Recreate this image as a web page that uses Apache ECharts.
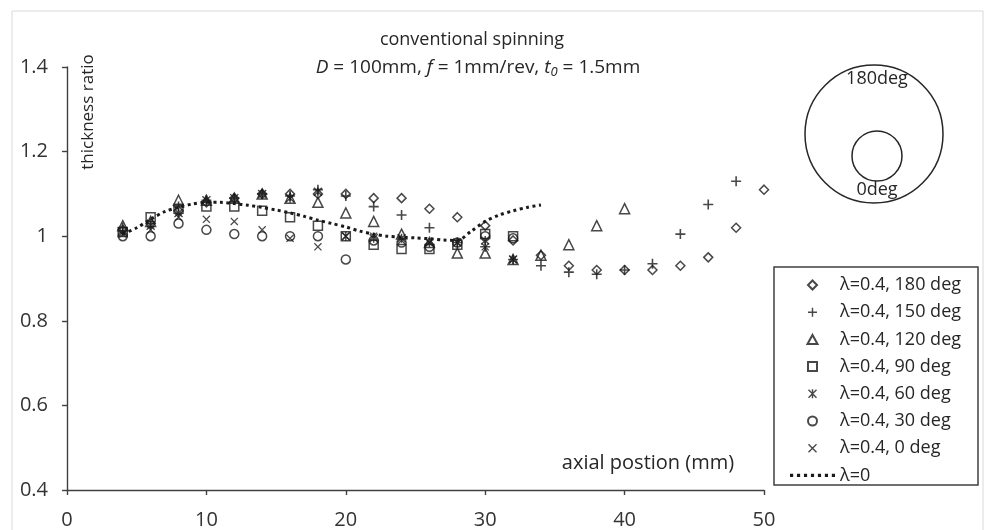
<!DOCTYPE html>
<html>
<head>
<meta charset="utf-8">
<script src="https://cdn.jsdelivr.net/npm/echarts@6/dist/echarts.min.js"></script>
<style>
  html, body { margin: 0; padding: 0; background: #fff; }
  #chart { width: 989px; height: 530px; }
</style>
</head>
<body>
<div id="chart"></div>
<script>
// Axial positions (mm) where the wall thickness was measured
const axialPos = [4, 6, 8, 10, 12, 14, 16, 18, 20, 22, 24, 26, 28, 30, 32, 34, 36, 38, 40, 42, 44, 46, 48, 50];

// Thickness ratio for offset roller (lambda = 0.4) at each circumferential angle
const ratio180 = [1.015, 1.03, 1.06, 1.08, 1.09, 1.10, 1.10, 1.10, 1.10, 1.09, 1.09, 1.065, 1.045, 1.025, 0.99, 0.955, 0.93, 0.92, 0.92, 0.92, 0.93, 0.95, 1.02, 1.11];
const ratio150 = [1.02, 1.03, 1.07, 1.085, 1.09, 1.10, 1.095, 1.11, 1.095, 1.07, 1.05, 1.02, 0.985, 0.975, 0.945, 0.93, 0.915, 0.91, 0.92, 0.935, 1.005, 1.075, 1.13];
const ratio120 = [1.025, 1.035, 1.085, 1.085, 1.09, 1.10, 1.09, 1.08, 1.055, 1.035, 1.005, 0.985, 0.96, 0.96, 0.945, 0.955, 0.98, 1.025, 1.065];
const ratio90  = [1.01, 1.045, 1.065, 1.07, 1.07, 1.06, 1.045, 1.025, 1.0, 0.98, 0.97, 0.97, 0.98, 1.005, 1.0];
const ratio60  = [1.01, 1.025, 1.055, 1.085, 1.09, 1.10, 1.09, 1.105, 1.0, 0.995, 0.995, 0.985, 0.985, 0.99, 0.945];
const ratio30  = [1.0, 1.0, 1.03, 1.015, 1.005, 1.0, 1.0, 1.0, 0.945, 0.99, 0.985, 0.975, 0.985, 1.0, 0.995];
const ratio0   = [1.005, 1.015, 1.045, 1.04, 1.035, 1.015, 0.995, 0.975, 1.0, 1.0, 0.99, 0.985, 0.985, 0.975, 0.945];

// Conventional spinning without offset (lambda = 0)
const lambda0Pos   = [4, 5, 6, 7, 8, 9, 10, 11, 12, 13, 14, 15, 16, 17, 18, 19, 20, 21, 22, 23, 24, 25, 26, 27, 28, 29, 30, 31, 32, 33, 34];
const lambda0Ratio = [1.005, 1.02, 1.04, 1.058, 1.068, 1.076, 1.08, 1.08, 1.077, 1.073, 1.068, 1.062, 1.055, 1.047, 1.038, 1.03, 1.022, 1.012, 1.005, 1.0, 0.998, 0.996, 0.994, 0.991, 0.99, 1.012, 1.035, 1.05, 1.06, 1.068, 1.074];

// Axis ticks
const xTicks = [0, 10, 20, 30, 40, 50];
const yTicks = [0.4, 0.6, 0.8, 1.0, 1.2, 1.4];

const seriesNames = ['λ=0.4, 180 deg', 'λ=0.4, 150 deg', 'λ=0.4, 120 deg', 'λ=0.4, 90 deg', 'λ=0.4, 60 deg', 'λ=0.4, 30 deg', 'λ=0.4, 0 deg', 'λ=0'];

const FONT = 'Open Sans';
const INK = '#1a1a1a';
const TXT = '#262626';

// Marker outlines drawn as filled strokes
const PLUS = 'path://M4.2,0 H5.8 V4.2 H10 V5.8 H5.8 V10 H4.2 V5.8 H0 V4.2 H4.2 Z';
const CROSS = 'path://M0,1.1 L1.1,0 L10,8.9 L8.9,10 Z M8.9,0 L10,1.1 L1.1,10 L0,8.9 Z';
const STAR = 'path://M0,1.1 L1.1,0 L10,8.9 L8.9,10 Z M8.9,0 L10,1.1 L1.1,10 L0,8.9 Z M4.2,0 H5.8 V10 H4.2 Z';
const DIAMOND = 'path://M5,0 L10,5 L5,10 L0,5 Z';
const TRIANGLE = 'path://M5,0 L10,9 L0,9 Z';
const SQUARE = 'path://M0,0 H10 V10 H0 Z';
// row of dots for the dotted-line legend key
const DOTS = 'path://' + [0, 1, 2, 3, 4, 5, 6].map(k => {
  const x = k * 6.6;
  return `M${x},0 h3 v3 h-3 Z`;
}).join(' ');

function pairs(ys) {
  return ys.map((y, i) => [axialPos[i], y]);
}

const hollow = { color: 'rgba(0,0,0,0)', borderColor: INK, borderWidth: 1.5 };
const solid = { color: INK, borderWidth: 0 };

function scatter(name, ys, symbol, size, style) {
  return {
    name, type: 'scatter', data: pairs(ys), symbol, symbolSize: size,
    itemStyle: style, emphasis: { disabled: true }
  };
}

const legendIcons = [DIAMOND, PLUS, TRIANGLE, SQUARE, STAR, 'circle', CROSS, DOTS];

const chart = echarts.init(document.getElementById('chart'), null, { renderer: 'canvas' });

chart.setOption({
  animation: false,
  backgroundColor: '#fff',
  textStyle: { fontFamily: FONT },
  grid: { left: 67, right: 225, top: 67, bottom: 40, containLabel: false },
  xAxis: {
    type: 'value', min: xTicks[0], max: xTicks[xTicks.length - 1], interval: 10,
    axisLine: { show: true, onZero: false, lineStyle: { color: '#404040', width: 1.4 } },
    axisTick: { show: true, length: 5, lineStyle: { color: '#404040', width: 1.4 } },
    axisLabel: { fontSize: 20, color: '#333', margin: 20, fontFamily: FONT },
    splitLine: { show: false }
  },
  yAxis: {
    type: 'value', min: yTicks[0], max: yTicks[yTicks.length - 1], interval: 0.2,
    axisLine: { show: true, onZero: false, lineStyle: { color: '#404040', width: 1.4 } },
    axisTick: { show: true, length: 5, lineStyle: { color: '#404040', width: 1.4 } },
    axisLabel: { fontSize: 20, color: '#333', margin: 19, fontFamily: FONT,
      formatter: v => String(Number(v.toFixed(1))) },
    splitLine: { show: false }
  },
  legend: {
    orient: 'vertical', left: 775, top: 267,
    padding: [8, 6, 3, 15],
    itemWidth: 45, itemHeight: 9, itemGap: 7.2,
    symbolKeepAspect: true,
    textStyle: { fontSize: 18, color: TXT, fontFamily: FONT, lineHeight: 20 },
    data: seriesNames.map((name, i) => ({ name, icon: legendIcons[i] }))
  },
  series: [
    scatter(seriesNames[0], ratio180, 'diamond', 9, hollow),
    scatter(seriesNames[1], ratio150, PLUS, 10, solid),
    scatter(seriesNames[2], ratio120, 'triangle', 10, hollow),
    scatter(seriesNames[3], ratio90, 'rect', 9, hollow),
    scatter(seriesNames[4], ratio60, STAR, 9, solid),
    scatter(seriesNames[5], ratio30, 'circle', 9, hollow),
    scatter(seriesNames[6], ratio0, CROSS, 8, solid),
    {
      name: seriesNames[7], type: 'line',
      data: lambda0Pos.map((x, i) => [x, lambda0Ratio[i]]),
      symbol: 'none', smooth: 0.3,
      lineStyle: { color: INK, width: 3, type: [3, 3.5] },
      itemStyle: { color: INK },
      emphasis: { disabled: true }
    }
  ],
  graphic: [
    // outer chart frame
    { type: 'rect', silent: true, z: -1,
      shape: { x: 12, y: 11, width: 971, height: 540 },
      style: { fill: 'none', stroke: '#d9d9d9', lineWidth: 1 } },
    // title block
    { type: 'text', silent: true,
      style: { x: 472, y: 40, text: 'conventional spinning', textAlign: 'center', textVerticalAlign: 'middle',
        font: '18px "Open Sans"', fill: TXT } },
    { type: 'text', silent: true,
      style: { x: 478, y: 68, textAlign: 'center', textVerticalAlign: 'middle',
        text: '{i|D} = 100mm, {i|f} = 1mm/rev, {i|t}{s|0} = 1.5mm',
        font: '19px "Open Sans"', fill: TXT,
        rich: {
          i: { fontStyle: 'italic', fontSize: 19, fontFamily: FONT, fill: TXT },
          s: { fontStyle: 'italic', fontSize: 13, fontFamily: FONT, fill: TXT, padding: [9, 0, 0, 0] }
        } } },
    // axis titles
    { type: 'text', silent: true, x: 88, y: 112, rotation: Math.PI / 2,
      style: { x: 0, y: 0, text: 'thickness ratio', textAlign: 'center', textVerticalAlign: 'middle',
        font: '17px "Open Sans"', fill: TXT } },
    { type: 'text', silent: true,
      style: { x: 648, y: 463, text: 'axial postion (mm)', textAlign: 'center', textVerticalAlign: 'middle',
        font: '20px "Open Sans"', fill: TXT } },
    // roller position sketch
    { type: 'circle', silent: true, shape: { cx: 874, cy: 134, r: 69 },
      style: { fill: 'none', stroke: TXT, lineWidth: 1.5 } },
    { type: 'circle', silent: true, shape: { cx: 877, cy: 156, r: 25 },
      style: { fill: 'none', stroke: TXT, lineWidth: 1.5 } },
    { type: 'text', silent: true,
      style: { x: 877, y: 79, text: '180deg', textAlign: 'center', textVerticalAlign: 'middle',
        font: '18px "Open Sans"', fill: TXT } },
    { type: 'text', silent: true,
      style: { x: 877, y: 190, text: '0deg', textAlign: 'center', textVerticalAlign: 'middle',
        font: '18px "Open Sans"', fill: TXT } },
    // legend frame
    { type: 'rect', silent: true,
      shape: { x: 774, y: 267, width: 204, height: 218 },
      style: { fill: 'none', stroke: '#404040', lineWidth: 1.5 } }
  ]
});
</script>
</body>
</html>
